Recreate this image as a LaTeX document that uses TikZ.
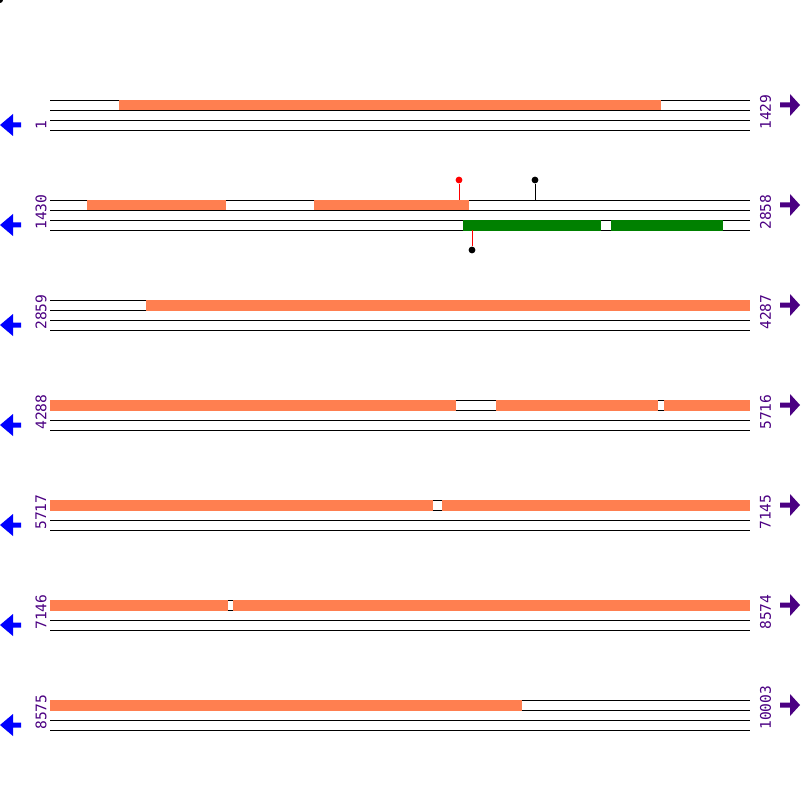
\documentclass[tikz,border=0pt]{standalone}
\usepackage{fontspec}
\setmonofont{DejaVu Sans Mono}
\usepackage{xcolor}
\usetikzlibrary{positioning}
\definecolor{seqorange}{HTML}{FF7F50}
\definecolor{seqgreen}{HTML}{008000}
\definecolor{seqpurple}{HTML}{4B0082}

\begin{document}
\begin{tikzpicture}[
  x=0.025cm, y=-0.025cm,
  track/.style={line width=0.7pt},
  feat/.style={fill=seqorange},
  orf/.style={fill=seqgreen},
  coordlabel/.style={font=\ttfamily\fontsize{10.4}{12}\selectfont, text=seqpurple,
              rotate=90, anchor=west, inner sep=0pt},
  pin/.style={circle, fill, inner sep=0pt, minimum size=0.17cm},
  stem/.style={line width=0.7pt},
  leftarr/.style={fill=blue},
  rightarr/.style={fill=seqpurple}
]
  \useasboundingbox (0,0) rectangle (800,800);

  % corner mark
  \fill (0,0) circle (3);

  % Rows: tracks, positions, strand arrows
  \foreach \r/\first/\last in {0/1/1429, 1/1430/2858, 2/2859/4287, 3/4288/5716,
                               4/5717/7145, 5/7146/8574, 6/8575/10003} {
    \pgfmathsetmacro\yy{100+100*\r}
    \foreach \d in {0,10,20,30}
      \draw[track] (50,\yy+\d) -- (750,\yy+\d);
    \node[coordlabel] (start\r) at (41,\yy+30) {\first};
    \node[coordlabel] (end\r) at (765.5,\yy+30) {\last};
    \fill[leftarr] (0,\yy+25) -- (13,\yy+14) -- (13,\yy+22.5) -- (21,\yy+22.5)
      -- (21,\yy+27.5) -- (13,\yy+27.5) -- (13,\yy+36) -- cycle;
    \fill[rightarr] (800,\yy+5) -- (790,\yy-6) -- (790,\yy+2.5) -- (780,\yy+2.5)
      -- (780,\yy+7.5) -- (790,\yy+7.5) -- (790,\yy+16) -- cycle;
  }

  % Row 1
  \fill[feat] (119,100) rectangle (661,110.5);

  % Row 2
  \fill[feat] (87,200) rectangle (226,210.5);
  \fill[feat] (314,200) rectangle (469,210.5);
  \fill[orf] (463,220) rectangle (601,230.5);
  \fill[orf] (611,220) rectangle (723,230.5);

  % Sites
  \node[pin, red] (siteA) at (459,180) {};
  \node[pin] (siteB) at (535,180) {};
  \node[pin] (siteC) at (472,250) {};
  \coordinate (siteAfoot) at (459,200);
  \coordinate (siteBfoot) at (535,200);
  \coordinate (siteCfoot) at (472,230);
  \draw[stem, red] (siteA) -- (siteAfoot);
  \draw[stem] (siteB) -- (siteBfoot);
  \draw[stem, red] (siteC) -- (siteCfoot);

  % Row 3
  \fill[feat] (146,300) rectangle (750,310.5);

  % Row 4
  \fill[feat] (50,400) rectangle (456,410.5);
  \fill[feat] (496,400) rectangle (658,410.5);
  \fill[feat] (664,400) rectangle (750,410.5);

  % Row 5
  \fill[feat] (50,500) rectangle (433,510.5);
  \fill[feat] (442,500) rectangle (750,510.5);

  % Row 6
  \fill[feat] (50,600) rectangle (228,610.5);
  \fill[feat] (233,600) rectangle (750,610.5);

  % Row 7
  \fill[feat] (50,700) rectangle (522,710.5);
\end{tikzpicture}
\end{document}
